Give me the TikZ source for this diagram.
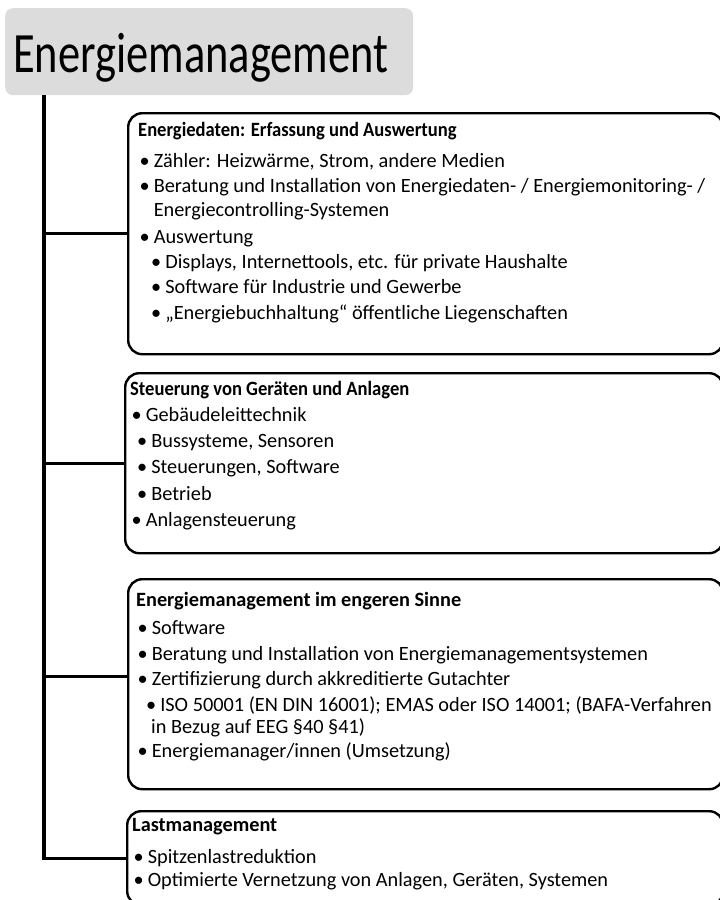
\documentclass[tikz,border=0pt]{standalone}
\usepackage{graphicx}
\usepackage{fontspec}
\setmainfont{Carlito}
\newfontfamily\titlefont[FakeStretch=0.78]{Carlito}
\usetikzlibrary{positioning}

\newcommand{\bul}{\hspace*{1.5pt}\textbullet\hspace{4pt}}
\newcommand{\subbul}[1][13pt]{\hspace*{#1}\textbullet\hspace{4pt}\ignorespaces}
\newcommand{\wrapind}{\hphantom{\bul}}
\newcommand{\subwrapind}{\hspace*{15pt}}
\newcommand{\headA}[1]{\scalebox{0.915}[1]{\bfseries #1}}

\begin{document}
\begin{tikzpicture}[x=1pt,y=-1pt,
  box/.style={draw, line width=2.4pt, rounded corners=14pt, fill=white, inner sep=0pt, anchor=north west},
  txt/.style={anchor=north west, align=left, inner sep=0pt, font=\fontsize{20.3}{23}\selectfont},
  trunk/.style={line width=4pt, line cap=rect},
  branch/.style={line width=2.8pt}]
\useasboundingbox (0,0) rectangle (720,900);
\fill[white] (0,0) rectangle (720,900);

% title
\node[fill={rgb,255:red,220;green,220;blue,220}, rounded corners=8pt, anchor=north west, inner sep=0pt,
  minimum width=408pt, minimum height=87pt] (title) at (5,8) {};
\node[anchor=base west, inner sep=0pt, font=\titlefont\fontsize{57}{57}\selectfont] (title-t) at (13,72) {Energiemanagement};

% boxes
\node[box, minimum width=595pt, minimum height=241pt] (ed) at (127,112) {};
\node[box, minimum width=598pt, minimum height=180pt] (st) at (124,372) {};
\node[box, minimum width=595pt, minimum height=210pt] (em) at (127,578) {};
\node[box, minimum width=596pt, minimum height=94pt] (lm) at (126,810) {};

% tree lines
\coordinate (top) at (44,97);
\draw[trunk] (top) -- (top |- lm.west);
\draw[branch] (top |- ed.west) -- (ed.west);
\draw[branch] (top |- st.west) -- (st.west);
\draw[branch] ([yshift=8pt]top |- em.west) -- ([yshift=8pt]em.west);
\draw[branch] (top |- lm.west) -- (lm.west);

% texts
\node[txt] (ed-t) at (138,122) {\headA{Energiedaten: Erfassung und Auswertung}\\[8pt]
  \bul Zähler: Heizwärme, Strom, andere Medien\\[2pt]
  \bul Beratung und Installation von Energiedaten- / Energiemonitoring- /\\[1pt]
  \wrapind Energiecontrolling-Systemen\\[4pt]
  \bul Auswertung\\[2pt]
  \subbul Displays, Internettools, etc. für private Haushalte\\[2pt]
  \subbul Software für Industrie und Gewerbe\\[3pt]
  \subbul „Energiebuchhaltung“ öffentliche Liegenschaften};

\node[txt] (st-t) at (130,381) {\headA{Steuerung von Geräten und Anlagen}\\[3pt]
  \bul Gebäudeleittechnik\\[3pt]
  \subbul[7pt] Bussysteme, Sensoren\\[3pt]
  \subbul[7pt] Steuerungen, Software\\[4pt]
  \subbul[7pt] Betrieb\\[3.5pt]
  \bul Anlagensteuerung};

\node[txt] (em-t) at (136,592) {\textbf{Energiemanagement im engeren Sinne}\\[5pt]
  \bul Software\\[3pt]
  \bul Beratung und Installation von Energiemanagementsystemen\\[2.5pt]
  \bul Zertifizierung durch akkreditierte Gutachter\\[3pt]
  \subbul[10pt] ISO 50001 (EN DIN 16001); EMAS oder ISO 14001; (BAFA-Verfahren\\[-1pt]
  \subwrapind in Bezug auf EEG §40 §41)\\[1pt]
  \bul Energiemanager/innen (Umsetzung)};

\node[txt] (lm-t) at (132,818) {\textbf{Lastmanagement}\\[9pt]
  \bul Spitzenlastreduktion\\[0pt]
  \bul Optimierte Vernetzung von Anlagen, Geräten, Systemen};
\end{tikzpicture}
\end{document}
